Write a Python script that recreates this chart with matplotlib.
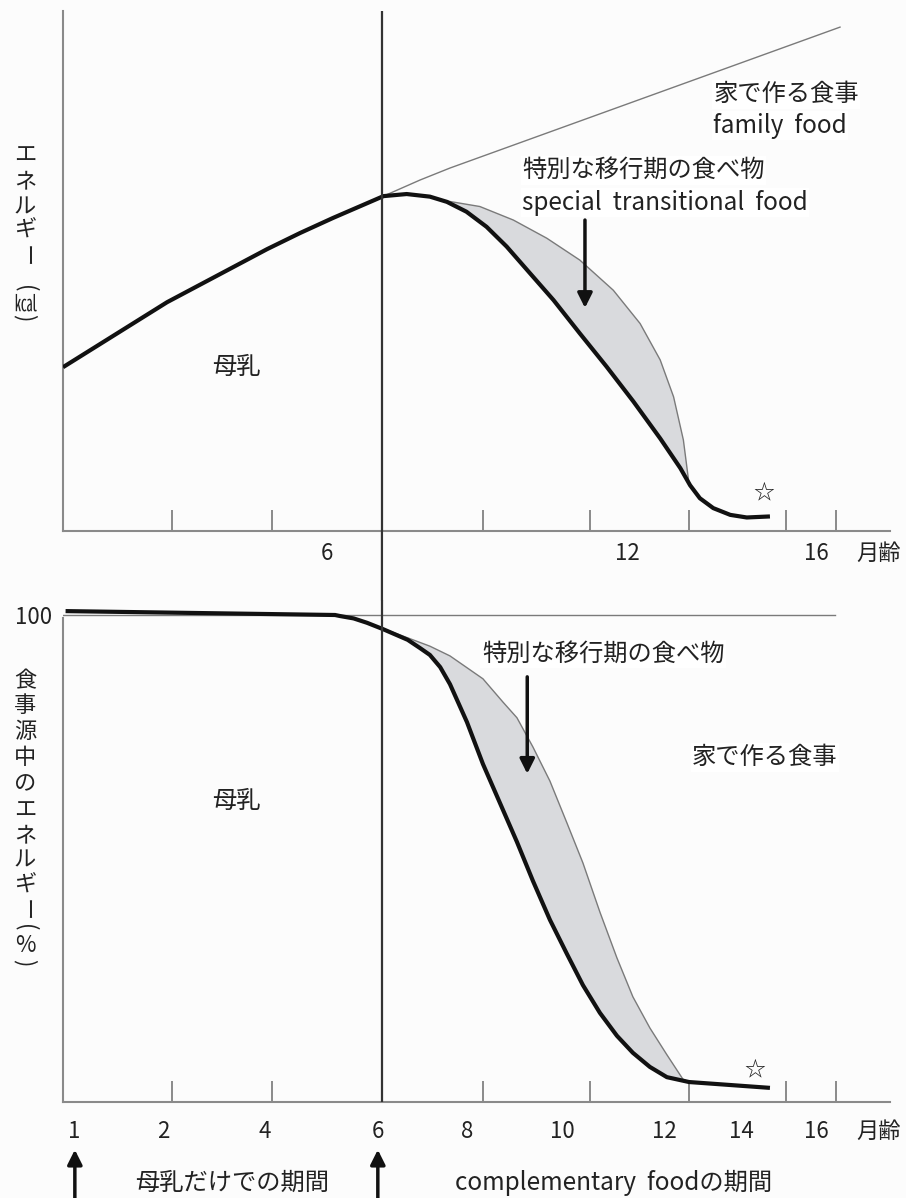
import numpy as np
import matplotlib
matplotlib.use("Agg")
import matplotlib.pyplot as plt
from matplotlib.patches import ConnectionPatch

plt.rcParams['font.family'] = ['Noto Sans CJK JP', 'DejaVu Sans']

# x axis: age in months (schematic scale of the original drawing)
# top panel: energy (arbitrary units, 0-100)
milk_x = [-0.19, 1.83, 3.77, 4.41, 5.05, 6.03, 6.48, 6.93, 7.26, 7.64, 8.03,
          8.42, 8.87, 9.33, 9.84, 10.36, 10.88, 11.40, 11.79, 11.98, 12.17,
          12.43, 12.76, 13.08, 13.53]
milk_e = [31.5, 44.0, 54.2, 57.3, 60.2, 64.4, 64.8, 64.3, 63.3, 61.4, 58.5,
          54.7, 49.6, 44.4, 38.0, 31.6, 24.9, 17.8, 12.1, 8.8, 6.3,
          4.4, 3.1, 2.6, 2.8]
trans_x = [7.18, 7.90, 8.55, 9.20, 9.84, 10.49, 11.01, 11.40, 11.66, 11.85,
           11.95, 11.98]
trans_e = [63.6, 62.4, 59.8, 56.3, 52.1, 46.3, 39.9, 32.9, 25.8, 17.5,
           9.8, 8.8]
family_x = [6.03, 6.74, 7.32, 14.89]
family_e = [64.4, 67.5, 69.8, 96.9]

# bottom panel: share of energy from breast milk (%)
milk_px = [-0.14, 5.09, 5.18, 5.45, 5.71, 6.02, 6.50, 6.74, 6.93, 7.13, 7.32,
           7.65, 7.96, 8.29, 8.62, 8.93, 9.26, 9.59, 9.90, 10.23, 10.56,
           10.87, 11.20, 11.53, 11.96, 13.53]
milk_p = [100.8, 100.0, 99.8, 99.3, 98.4, 97.1, 94.9, 93.2, 91.8, 89.3, 85.8,
          78.0, 69.4, 61.4, 53.4, 45.4, 37.4, 30.4, 24.0, 18.3, 13.6,
          10.1, 7.2, 5.1, 4.1, 2.9]
trans_px = [6.00, 6.93, 7.32, 7.96, 8.35, 8.62, 8.93, 9.26, 9.59, 9.90, 10.23,
            10.56, 10.87, 11.20, 11.53, 11.84, 11.96]
trans_p = [97.3, 93.6, 91.6, 86.9, 82.1, 78.9, 72.9, 65.9, 57.3, 49.1, 39.0,
           29.6, 21.6, 15.2, 9.7, 4.7, 4.1]
full_x = [-0.19, 14.80]
full_p = [100, 100]

tick_marks = [1.92, 3.86, 7.96, 10.04, 11.96, 13.84, 14.82]
top_label_pos = [4.94, 10.76, 14.43, 15.63]
top_labels = ["6", "12", "16", "月齢"]
bot_label_pos = [0.02, 1.76, 3.72, 5.92, 7.65, 9.51, 11.48, 12.97, 14.43, 15.63]
bot_labels = ["1", "2", "4", "6", "8", "10", "12", "14", "16", "月齢"]

top_ylabel = ["エ", "ネ", "ル", "ギ", "ー", "(", "㎉", ")"]
top_ylabel_y = [155, 182, 207, 230, 256, 289, 304, 318]
bot_ylabel = ["食", "事", "源", "中", "の", "エ", "ネ", "ル", "ギ", "ー", "(", "%", ")"]
bot_ylabel_y = [681, 706, 732, 758, 784, 810, 836, 860, 885, 910, 928, 946, 963]

W, H = 906, 1198
BG = "#fcfcfc"
AX = "#8a8a8a"
FILL = "#d9dadd"
THIN = "#7a7a7a"

fig = plt.figure(figsize=(W / 100, H / 100), dpi=100, facecolor=BG)
top = fig.add_axes([63 / W, 1 - 531 / H, 827 / W, 520 / H], facecolor=BG)
bot = fig.add_axes([63 / W, 1 - 1102 / H, 827 / W, 502 / H], facecolor=BG)

xlim = (-0.19, 15.86)
for ax in (top, bot):
    ax.set_xlim(*xlim)
    for s in ("top", "right"):
        ax.spines[s].set_visible(False)
    for s in ("left", "bottom"):
        ax.spines[s].set_color(AX)
        ax.spines[s].set_linewidth(1.5)
    ax.set_xticks(tick_marks, minor=True)
    ax.tick_params(axis="x", which="minor", direction="in", length=15,
                   width=1.4, color=AX)
    ax.tick_params(axis="x", which="major", length=0, labelsize=16,
                   labelcolor="#222")

top.set_ylim(0, 100)
top.set_yticks([])
top.set_xticks(top_label_pos, top_labels)
top.tick_params(axis="x", which="major", pad=8)

bot.set_ylim(0, 103.08)
bot.spines["left"].set_bounds(0, 99.4)
bot.set_yticks([100], ["100"])
bot.tick_params(axis="y", length=0, labelsize=16, labelcolor="#222", pad=8)
bot.set_xticks(bot_label_pos, bot_labels)
bot.tick_params(axis="x", which="major", pad=13)

# ---- top panel: energy
mx = np.array(milk_x)
me = np.array(milk_e)
sel = (mx > trans_x[0]) & (mx < trans_x[-1])
top.fill(np.r_[trans_x, mx[sel][::-1]], np.r_[trans_e, me[sel][::-1]],
         color=FILL, lw=0, zorder=1)
top.plot(trans_x, trans_e, color=THIN, lw=1.0, zorder=2)
top.plot(family_x, family_e, color=THIN, lw=1.0, zorder=2)
top.plot(milk_x, milk_e, color="#111", lw=3.0, solid_capstyle="butt",
         solid_joinstyle="round", zorder=3)

txt = dict(fontsize=17.5, color="#222")
box = dict(facecolor="white", edgecolor="none", pad=1)
top.text(12.43, 84.0, "家で作る食事", ha="left", va="center", bbox=box, **txt)
top.text(12.43, 77.9, "family  food", ha="left", va="center", bbox=box, **txt)
top.text(8.72, 69.4, "特別な移行期の食べ物", ha="left", va="center", bbox=box, **txt)
top.text(8.72, 63.1, "special  transitional  food", ha="left", va="center",
         bbox=box, **txt)
top.text(3.18, 31.5, "母乳", ha="center", va="center", **txt)
top.text(13.40, 7.2, "☆", ha="center", va="center", fontsize=15, color="#222")
top.annotate("", xy=(9.94, 42.9), xytext=(9.94, 59.8),
             arrowprops=dict(arrowstyle="-|>", color="#111", lw=2.5,
                             mutation_scale=22, shrinkA=0, shrinkB=0))

# ---- bottom panel: % of energy
bx = np.array(milk_px)
bp = np.array(milk_p)
sel = (bx > trans_px[0]) & (bx < trans_px[-1])
bot.fill(np.r_[trans_px, bx[sel][::-1]], np.r_[trans_p, bp[sel][::-1]],
         color=FILL, lw=0, zorder=1)
bot.plot(full_x, full_p, color=THIN, lw=1.0, zorder=2)
bot.plot(trans_px, trans_p, color=THIN, lw=1.0, zorder=2)
bot.plot(milk_px, milk_p, color="#111", lw=3.0, solid_capstyle="butt",
         solid_joinstyle="round", zorder=3)

bot.text(7.94, 92.0, "特別な移行期の食べ物", ha="left", va="center", bbox=box, **txt)
bot.text(12.02, 70.8, "家で作る食事", ha="left", va="center", bbox=box, **txt)
bot.text(3.18, 61.8, "母乳", ha="center", va="center", **txt)
bot.text(13.24, 6.4, "☆", ha="center", va="center", fontsize=15, color="#222")
bot.annotate("", xy=(8.82, 67.4), xytext=(8.82, 87.3),
             arrowprops=dict(arrowstyle="-|>", color="#111", lw=2.5,
                             mutation_scale=22, shrinkA=0, shrinkB=0))

# period arrows under the axis
for xa in (0.04, 5.92):
    bot.annotate("", xy=(xa, -9.8), xytext=(xa, -20.0), annotation_clip=False,
                 arrowprops=dict(arrowstyle="-|>", color="#111", lw=2.5,
                                 mutation_scale=22, shrinkA=0, shrinkB=0))
bot.text(3.10, -16.6, "母乳だけでの期間", ha="center", va="center",
         clip_on=False, **txt)
bot.text(7.42, -16.6, "complementary  foodの期間", ha="left", va="center",
         clip_on=False, **txt)

# 6-month line across both panels
top.axvline(6.0, color="#333", lw=1.6, zorder=4)
bot.axvline(6.0, color="#333", lw=1.6, zorder=4)
fig.add_artist(ConnectionPatch(xyA=(6.0, 0), coordsA=top.transData,
                               xyB=(6.0, 103.08), coordsB=bot.transData,
                               color="#333", lw=1.6))

# vertical (tategaki) axis titles
rotated = {"ー", "(", ")"}
for chars, ys in ((top_ylabel, top_ylabel_y), (bot_ylabel, bot_ylabel_y)):
    for ch, yy in zip(chars, ys):
        fig.text(25 / W, 1 - yy / H, ch, ha="center", va="center",
                 fontsize=16, color="#222",
                 rotation=-90 if ch in rotated else 0)

fig.savefig("out.png", dpi=100, facecolor=BG)
